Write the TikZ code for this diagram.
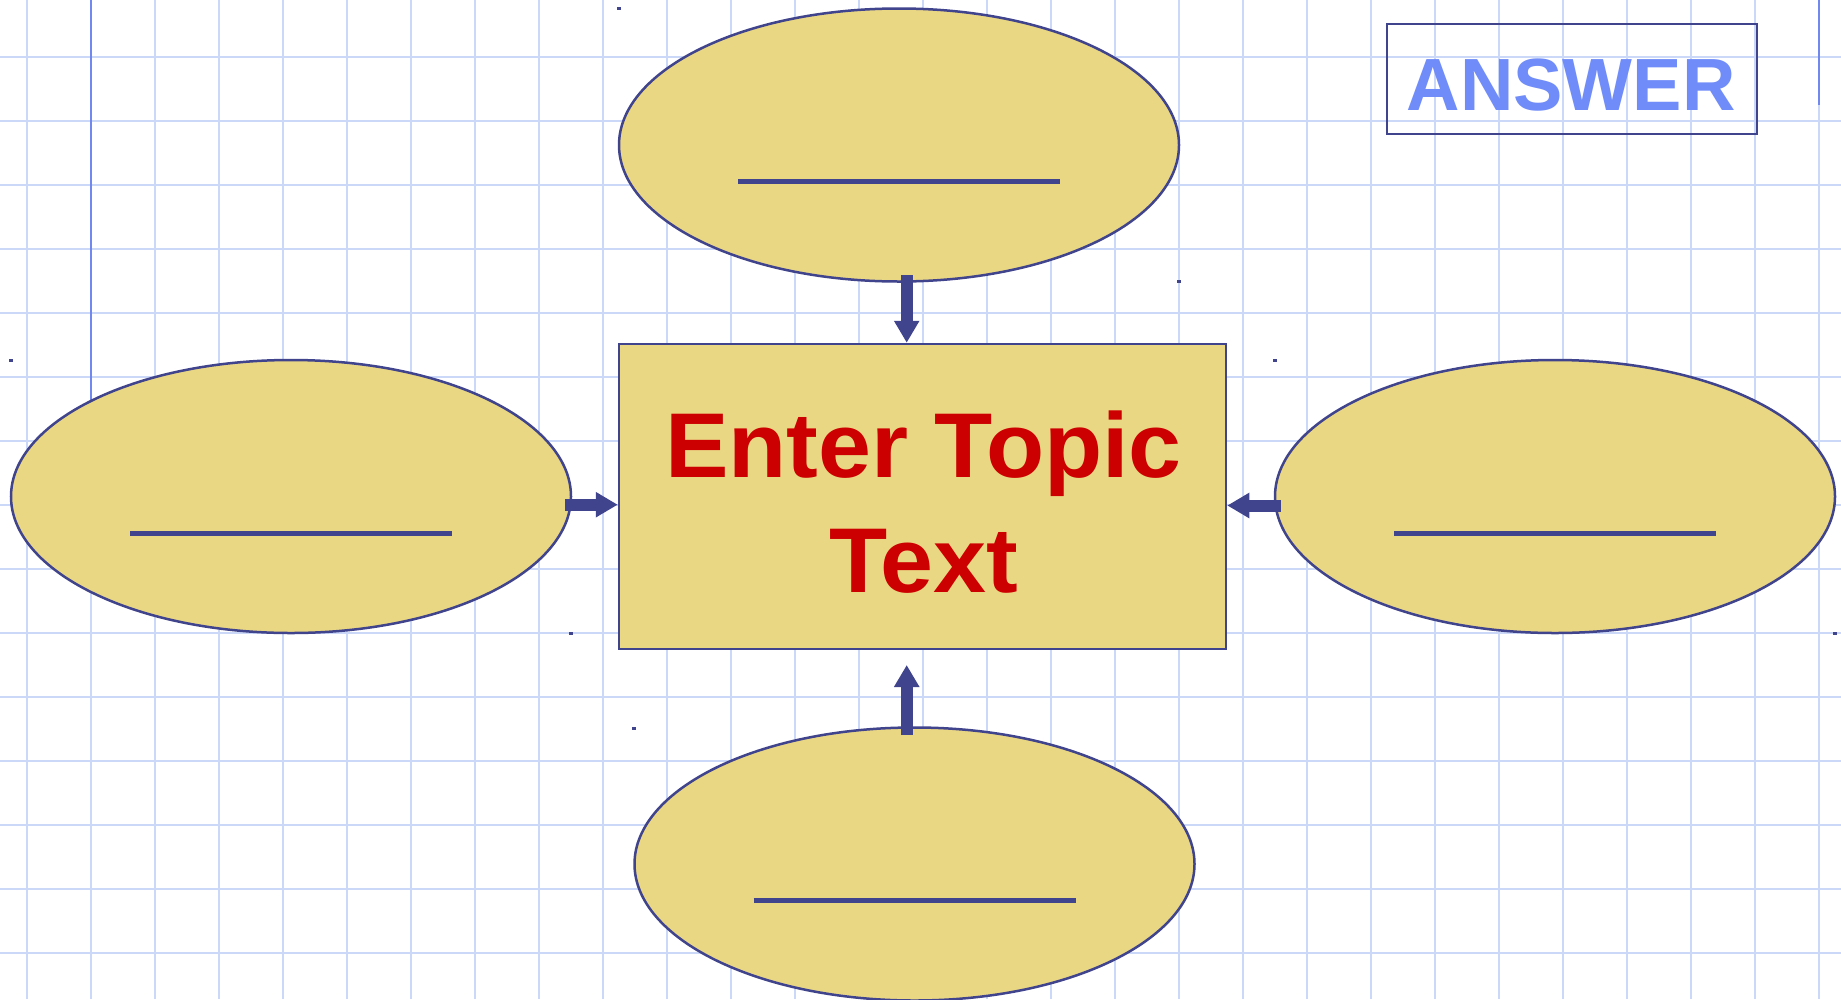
\documentclass[tikz,border=0pt]{standalone}
\usepackage{fontspec}
\setmainfont{Liberation Sans}
\newfontfamily\topicfont[FakeStretch=1.035]{Liberation Sans}
\usetikzlibrary{shapes.geometric,arrows.meta,calc}
\definecolor{gridc}{HTML}{CCD8F8}
\definecolor{marginc}{HTML}{7088F0}
\definecolor{dkblue}{HTML}{40448C}
\definecolor{boxfill}{HTML}{EAD784}
\definecolor{topicred}{HTML}{CC0000}
\definecolor{answerc}{HTML}{708CF8}
\tikzset{
  gridline/.style={draw=gridc, line width=1.4pt},
  marginline/.style={draw=marginc, line width=1.6pt},
  bubble/.style={ellipse, draw=dkblue, fill=boxfill, line width=2.5pt, minimum width=560pt, minimum height=273pt, inner sep=0pt},
  topicbox/.style={rectangle, draw=dkblue, fill=boxfill, line width=2.5pt, minimum width=607pt, minimum height=305pt, inner sep=0pt},
  blank/.style={draw=dkblue, line width=5pt},
  arr/.style={draw=dkblue, line width=12pt, -{Triangle[width=24pt,length=22pt]}},
  dot/.style={fill=dkblue},
  answerbox/.style={rectangle, draw=dkblue, line width=2.5pt, minimum width=370pt, minimum height=110pt, inner sep=0pt}
}
\begin{document}
\begin{tikzpicture}[x=1pt,y=-1pt]
\useasboundingbox (0,0) rectangle (1841,999);
\fill[white] (0,0) rectangle (1841,999);
% grid
\foreach \i in {0,...,28} \draw[gridline] ({27+64*\i},0) -- ({27+64*\i},999);
\foreach \j in {0,...,14} \draw[gridline] (0,{57+64*\j}) -- (1841,{57+64*\j});
% margin lines
\draw[marginline] (91,0) -- (91,450);
\draw[marginline] (1819,0) -- (1819,105);
% small dots
\foreach \p in {(619,8),(1179,281),(1275,360),(11,360),(571,633),(634,728),(1835,633)}
  \fill[dot] \p ++(-2,-1.5) rectangle ++(4,3);
% bubbles
\node[bubble] (T) at (899,145) {};
\node[bubble] (L) at (291,496.5) {};
\node[bubble] (Rt) at (1555,496.5) {};
\node[bubble] (B) at (914.5,864) {};
% blanks
\foreach \n in {T,L,Rt,B}
  \draw[blank] ($(\n.center)+(-161,36.5)$) -- ($(\n.center)+(161,36.5)$);
% topic box
\node[topicbox] (R) at (922.5,496.5) {};
\node[text=topicred, align=center, inner sep=0pt, font=\topicfont\bfseries\fontsize{92}{115}\selectfont] (topic) at (923.5,502.5) {Enter Topic\\Text};
% arrows
\coordinate (ta) at (906.7,275);
\coordinate (la) at (565,504.7);
\coordinate (ra) at (1281,505.5);
\coordinate (ba) at (906.7,735);
\coordinate (bt) at (906.7,665);
\draw[arr] (ta) -- (ta |- R.north);
\draw[arr] (la) -- (la -| R.west);
\draw[arr] (ra) -- (ra -| R.east);
\draw[arr] (ba) -- (bt);
% answer
\node[answerbox] (A) at (1572,79) {};
\node[text=answerc, anchor=base, inner sep=0pt, font=\bfseries\fontsize{74}{80}\selectfont] (ans) at (1571,110) {ANSWER};
\end{tikzpicture}
\end{document}
